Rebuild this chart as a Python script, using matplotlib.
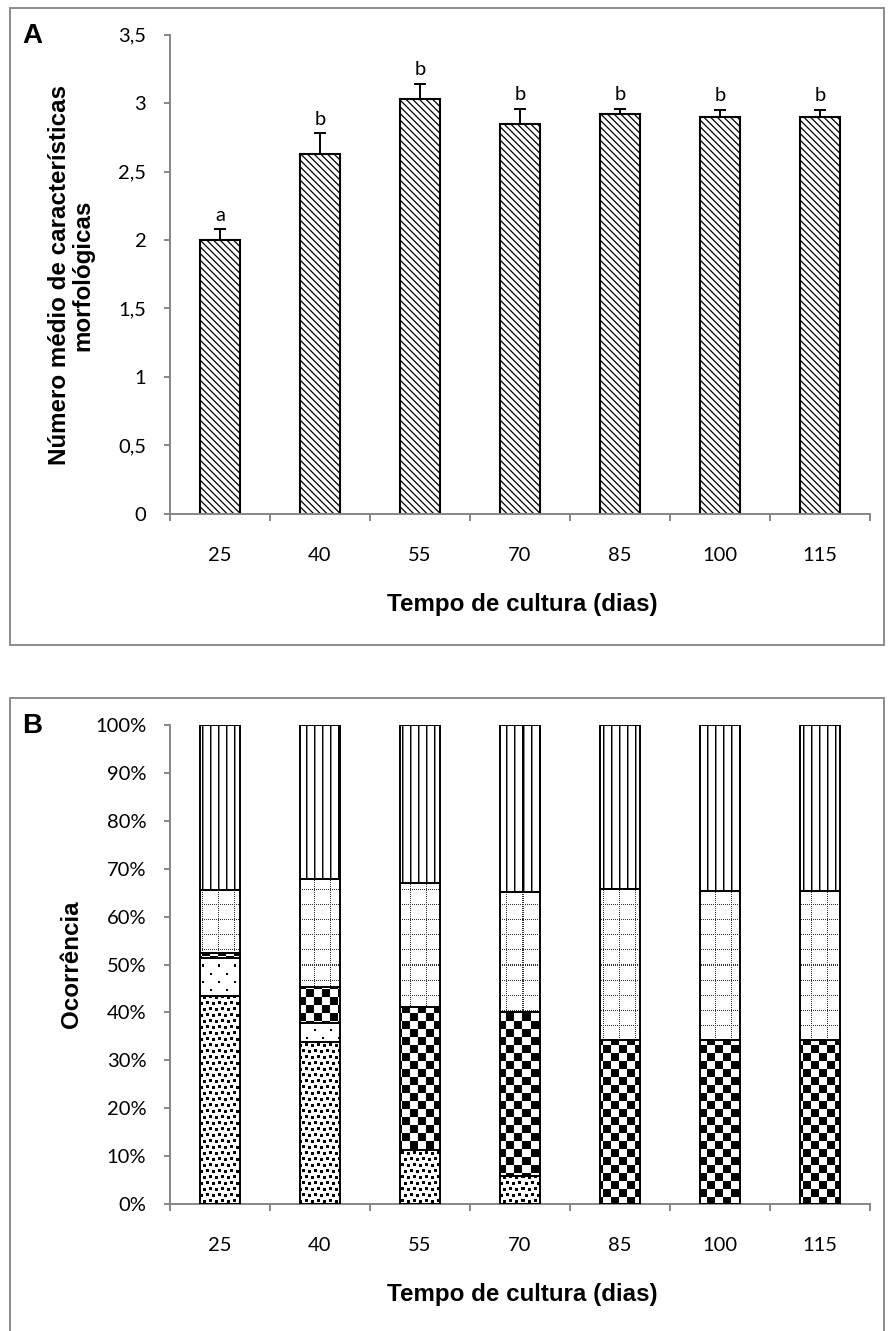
import numpy as np
import matplotlib.pyplot as plt
from matplotlib.path import Path
from matplotlib.patches import Rectangle

dias = ['25', '40', '55', '70', '85', '100', '115']

# painel A: numero medio de caracteristicas morfologicas
media = [2.00, 2.63, 3.03, 2.85, 2.92, 2.90, 2.90]
erro = [0.08, 0.15, 0.11, 0.11, 0.04, 0.05, 0.05]
letras = ['a', 'b', 'b', 'b', 'b', 'b', 'b']

# painel B: ocorrencia (%), de baixo para cima
confete = [43.5, 33.8, 11.3, 5.8, 0, 0, 0]
pontos = [7.9, 4.0, 0, 0, 0, 0, 0]
xadrez = [1.1, 7.6, 29.9, 34.2, 34.2, 34.2, 34.2]
grade = [13.0, 22.4, 25.8, 25.1, 31.6, 31.2, 31.2]
verticais = [34.5, 32.2, 33.0, 34.9, 34.2, 34.6, 34.6]

CINZA = '#868686'
FONTE_TICK = 'Lato'
FONTE_TITULO = 'Liberation Sans'
TAM_TICK = 14.5
TAM_TITULO = 17.4

plt.rcParams['hatch.linewidth'] = 0.9


def textura(tipo, h, w):
    # padroes de preenchimento no estilo do Excel, em pixels
    i, j = np.mgrid[0:h, 0:w]
    if tipo == 'confete':
        tile = np.ones((12, 12))
        for r, c in [(0, 0), (1, 6), (6, 3), (7, 9)]:
            tile[r:r + 3, c:c + 3] = 0
        return tile[i % 12, j % 12]
    if tipo == 'pontos':
        tile = np.ones((16, 16))
        tile[0:2, 0:2] = 0
        tile[8:10, 8:10] = 0
        return tile[i % 16, j % 16]
    if tipo == 'xadrez':
        return ((i // 8 + j // 8) % 2).astype(float)
    if tipo == 'grade':
        img = np.ones((h, w))
        img[((i % 15 == 0) & (j % 2 == 0)) | ((j % 16 == 0) & (i % 2 == 0))] = 0.2
        return img
    if tipo == 'verticais':
        img = np.ones((h, w))
        img[j % 8 == 0] = 0.0
        img[j % 8 == 1] = 0.55
        return img


def estilo_eixos(ax):
    for lado in ['top', 'right']:
        ax.spines[lado].set_visible(False)
    for lado in ['left', 'bottom']:
        ax.spines[lado].set_color(CINZA)
        ax.spines[lado].set_linewidth(1.4)
    ax.set_xlim(-0.5, 6.5)
    ax.set_xticks(np.arange(-0.5, 7, 1))
    ax.set_xticklabels([])
    ax.set_xticks(np.arange(7), minor=True)
    ax.set_xticklabels(dias, minor=True, fontfamily=FONTE_TICK, fontsize=TAM_TICK)
    ax.tick_params(axis='x', which='major', length=5, width=1.4, color=CINZA)
    ax.tick_params(axis='x', which='minor', length=0, pad=24)
    ax.tick_params(axis='y', length=4, width=1.4, color=CINZA, pad=13)
    for t in ax.get_yticklabels():
        t.set_fontfamily(FONTE_TICK)
        t.set_fontsize(TAM_TICK)


fig = plt.figure(figsize=(8.88, 13.31), dpi=100)
x = np.arange(len(dias))

# ---------------- painel A ----------------
axA = fig.add_axes([0.1914, 0.6139, 0.7883, 0.3601])
axA.bar(x, media, width=0.4, color='white', edgecolor='black', linewidth=1.5,
        hatch='\\\\\\\\\\', zorder=2)
axA.errorbar(x, media, yerr=[np.zeros(len(erro)), erro], fmt='none', ecolor='black',
             elinewidth=1.4, capsize=4, capthick=1.4, zorder=3)
for xi, m, e, l in zip(x, media, erro, letras):
    axA.text(xi, m + e + 0.04, l, ha='center', va='bottom',
             fontfamily=FONTE_TICK, fontsize=TAM_TICK)
axA.set_ylim(0, 3.5)
axA.set_yticks(np.arange(0, 3.51, 0.5))
axA.set_yticklabels([f'{v:g}'.replace('.', ',') for v in np.arange(0, 3.51, 0.5)])
estilo_eixos(axA)

# ---------------- painel B ----------------
axB = fig.add_axes([0.1914, 0.0954, 0.7883, 0.3599])
axB.set_ylim(0, 100)
axB.set_yticks(np.arange(0, 101, 10))
axB.set_yticklabels([f'{v}%' for v in range(0, 101, 10)])
estilo_eixos(axB)

fig.canvas.draw()
bb = axB.get_window_extent()
h_px, w_px = int(round(bb.height)), int(round(bb.width))

series = [('confete', confete), ('pontos', pontos), ('xadrez', xadrez),
          ('grade', grade), ('verticais', verticais)]
base = np.zeros(len(dias))
for tipo, vals in series:
    barras = axB.bar(x, vals, bottom=base, width=0.4, facecolor='none',
                     edgecolor='black', linewidth=1.4, zorder=3)
    caminhos = [b.get_path().transformed(b.get_patch_transform()) for b in barras]
    im = axB.imshow(textura(tipo, h_px, w_px), cmap='gray', vmin=0, vmax=1,
                    extent=(-0.5, 6.5, 0, 100), aspect='auto',
                    interpolation='nearest', zorder=2)
    im.set_clip_path(Path.make_compound_path(*caminhos), axB.transData)
    base = base + np.array(vals)
axB.set_xlim(-0.5, 6.5)
axB.set_ylim(0, 100)

# ---------------- textos ----------------
fig.text(71 / 888, 1 - 275 / 1331, 'Número médio de características\nmorfológicas',
         rotation=90, ha='center', va='center', multialignment='center',
         fontfamily=FONTE_TITULO, fontweight='bold', fontsize=TAM_TITULO,
         linespacing=1.0)
fig.text(71 / 888, 1 - 964 / 1331, 'Ocorrência', rotation=90, ha='center', va='center',
         fontfamily=FONTE_TITULO, fontweight='bold', fontsize=TAM_TITULO)
for yy in [604, 1294]:
    fig.text(522 / 888, 1 - yy / 1331, 'Tempo de cultura (dias)', ha='center', va='center',
             fontfamily=FONTE_TITULO, fontweight='bold', fontsize=TAM_TITULO)
fig.text(22 / 888, 1 - 36 / 1331, 'A', ha='left', va='center',
         fontfamily=FONTE_TITULO, fontweight='bold', fontsize=20)
fig.text(22 / 888, 1 - 726 / 1331, 'B', ha='left', va='center',
         fontfamily=FONTE_TITULO, fontweight='bold', fontsize=20)

# molduras dos paineis
for y0, y1 in [(8, 645), (698, 1336)]:
    fig.add_artist(Rectangle((10 / 888, 1 - y1 / 1331), 874 / 888, (y1 - y0) / 1331,
                             transform=fig.transFigure, fill=False,
                             edgecolor='#8c8c8c', linewidth=1.4))

fig.savefig('out.png', dpi=100)
